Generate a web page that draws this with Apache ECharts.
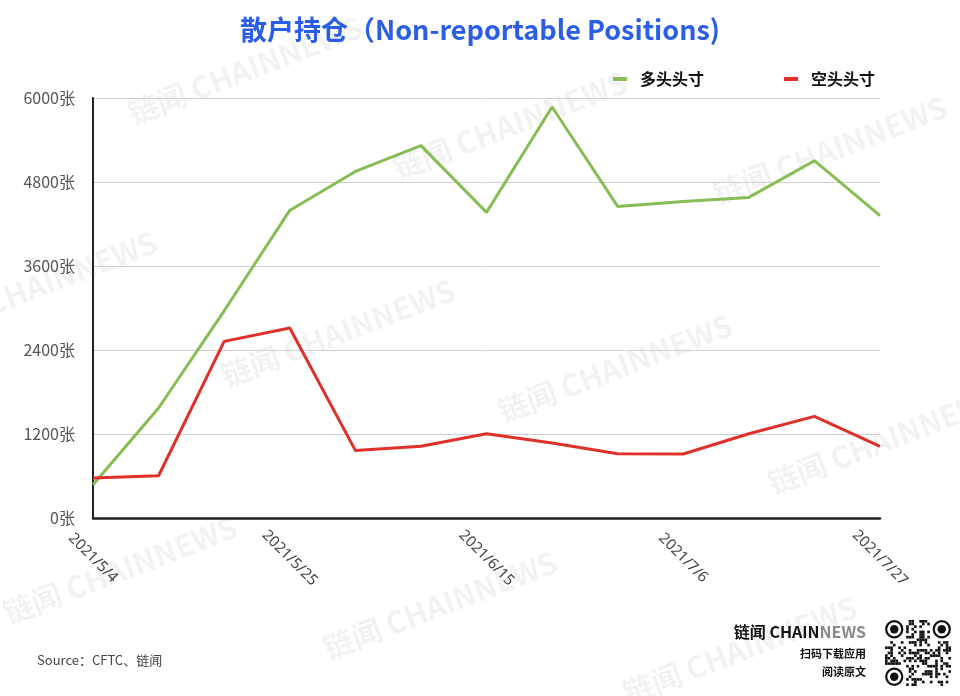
<!DOCTYPE html>
<html>
<head>
<meta charset="utf-8">
<script src="https://cdn.jsdelivr.net/npm/echarts@6/dist/echarts.min.js"></script>
<style>html,body{margin:0;padding:0;background:#fff;}#c{width:960px;height:696px;}</style>
</head>
<body>
<div id="c"></div>
<script>
var categories = ['2021/5/4','2021/5/11','2021/5/18','2021/5/25','2021/6/1','2021/6/8','2021/6/15','2021/6/22','2021/6/29','2021/7/6','2021/7/13','2021/7/20','2021/7/27'];
var longPos = [476, 1571, 2960, 4394, 4951, 5319, 4366, 5871, 4451, 4523, 4580, 5104, 4319];
var shortPos = [571, 604, 2523, 2714, 966, 1024, 1204, 1071, 919, 914, 1204, 1452, 1024];
var yTicks = [0, 1200, 2400, 3600, 4800, 6000];

var chart = echarts.init(document.getElementById('c'));

var wmPositions = [[245,70],[510,125],[830,150],[40,285],[338,333],[615,368],[885,440],[120,570],[440,605],[740,650]];
var graphics = [];
wmPositions.forEach(function(p){
  graphics.push({
    type:'text', x:p[0], y:p[1], rotation: 21*Math.PI/180, z:0, silent:true,
    style:{text:'链闻 CHAINNEWS', fill:'rgba(0,0,0,0.05)', font:'bold 30px "Noto Sans CJK SC", sans-serif', textAlign:'center', textVerticalAlign:'middle'}
  });
});
graphics.push({type:'text', left:37, top:654, z:10, style:{text:'Source：CFTC、链闻', fill:'#444', font:'13px "Noto Sans CJK SC", sans-serif'}});
graphics.push({type:'text', right:94, top:624, z:10, style:{text:'{a|链闻 CHAIN}{b|NEWS}', rich:{a:{fill:'#111', font:'bold 16px "Noto Sans CJK SC", sans-serif'}, b:{fill:'#888', font:'bold 16px "Noto Sans CJK SC", sans-serif'}}}});
graphics.push({type:'text', right:94, top:648, z:10, style:{text:'扫码下载应用', fill:'#111', font:'bold 11px "Noto Sans CJK SC", sans-serif'}});
graphics.push({type:'text', right:94, top:666, z:10, style:{text:'阅读原文', fill:'#111', font:'bold 11px "Noto Sans CJK SC", sans-serif'}});

// decorative QR-like block
var qx = 885, qy = 620, n = 25, cs = 2.64;
var qrChildren = [];
function inFinder(i,j){ return (i<8&&j<8)||(i<8&&j>=n-8)||(i>=n-8&&j<8); }
for (var i=0;i<n;i++){ for (var j=0;j<n;j++){
  if (inFinder(i,j)) continue;
  var v = ((i*31 + j*17 + i*j*7) ^ (i*5 + j*3)) % 5;
  if (v < 2) qrChildren.push({type:'rect', shape:{x:qx+j*cs, y:qy+i*cs, width:cs, height:cs}, style:{fill:'#111'}});
}}
[[0,0],[0,n-7],[n-7,0]].forEach(function(f){
  var cx = qx + (f[1]+3.5)*cs, cy = qy + (f[0]+3.5)*cs;
  qrChildren.push({type:'circle', shape:{cx:cx, cy:cy, r:3.5*cs-1.2}, style:{fill:'none', stroke:'#111', lineWidth:2.2}});
  qrChildren.push({type:'circle', shape:{cx:cx, cy:cy, r:1.6*cs}, style:{fill:'#111'}});
});
graphics.push({type:'group', z:10, children:qrChildren});

chart.setOption({
  backgroundColor:'#fff',
  animation:false,
  title:{
    text:'散户持仓（Non-reportable Positions)',
    left:'center', top:11,
    textStyle:{color:'#2b5ee6', fontSize:27, fontWeight:'bold', fontFamily:'"Noto Sans CJK SC", sans-serif'}
  },
  legend:{
    right:80, top:66, itemWidth:14, itemHeight:4, itemGap:80, icon:'rect',
    textStyle:{color:'#111', fontSize:16, fontWeight:'bold', fontFamily:'"Noto Sans CJK SC", sans-serif', padding:[0,0,0,8]},
    data:['多头头寸','空头头寸']
  },
  grid:{left:93, right:80, top:98, bottom:178, containLabel:false},
  xAxis:{
    type:'category', data:categories, boundaryGap:false,
    axisLine:{lineStyle:{color:'#222', width:2.5}},
    axisTick:{show:false},
    axisLabel:{interval:2, rotate:-45, align:'center', verticalAlign:'middle', margin:40, color:'#444', fontSize:15, fontFamily:'"Noto Sans", sans-serif'},
    splitLine:{show:false}
  },
  yAxis:{
    type:'value', min:yTicks[0], max:yTicks[yTicks.length-1], interval:1200,
    axisLine:{show:true, lineStyle:{color:'#222', width:2}},
    axisTick:{show:false},
    axisLabel:{formatter:function(v){ return String(v) + '张'; }, margin:18, color:'#555', fontSize:16, fontFamily:'"Noto Sans CJK SC", sans-serif'},
    splitLine:{lineStyle:{color:'#cfcfcf', width:1}}
  },
  series:[
    {name:'多头头寸', type:'line', data:longPos, symbol:'none', lineStyle:{color:'#88bd55', width:3}, itemStyle:{color:'#88bd55'}, z:3},
    {name:'空头头寸', type:'line', data:shortPos, symbol:'none', lineStyle:{color:'#e0302a', width:3}, itemStyle:{color:'#e0302a'}, z:4}
  ],
  graphic:graphics
});
</script>
</body>
</html>
